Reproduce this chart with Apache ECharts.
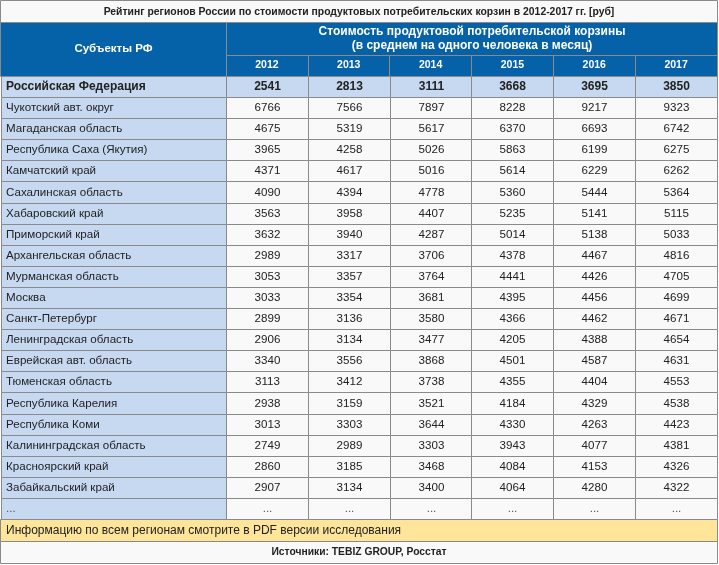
<!DOCTYPE html>
<html>
<head>
<meta charset="utf-8">
<script src="https://cdn.jsdelivr.net/npm/echarts@6/dist/echarts.min.js"></script>
<style>html,body{margin:0;padding:0;background:#fff}#c{width:719px;height:565px}</style>
</head>
<body>
<div id="c"></div>
<script>
const title = 'Рейтинг регионов России по стоимости продуктовых потребительских корзин в 2012-2017 гг. [руб]';
const colHeader = 'Субъекты РФ';
const groupHeader = ['Стоимость продуктовой потребительской корзины', '(в среднем на одного человека в месяц)'];
const years = ['2012', '2013', '2014', '2015', '2016', '2017'];
const regions = ['Российская Федерация', 'Чукотский авт. округ', 'Магаданская область', 'Республика Саха (Якутия)', 'Камчатский край', 'Сахалинская область', 'Хабаровский край', 'Приморский край', 'Архангельская область', 'Мурманская область', 'Москва', 'Санкт-Петербург', 'Ленинградская область', 'Еврейская авт. область', 'Тюменская область', 'Республика Карелия', 'Республика Коми', 'Калининградская область', 'Красноярский край', 'Забайкальский край', '...'];
const v2012 = [2541, 6766, 4675, 3965, 4371, 4090, 3563, 3632, 2989, 3053, 3033, 2899, 2906, 3340, 3113, 2938, 3013, 2749, 2860, 2907, '...'];
const v2013 = [2813, 7566, 5319, 4258, 4617, 4394, 3958, 3940, 3317, 3357, 3354, 3136, 3134, 3556, 3412, 3159, 3303, 2989, 3185, 3134, '...'];
const v2014 = [3111, 7897, 5617, 5026, 5016, 4778, 4407, 4287, 3706, 3764, 3681, 3580, 3477, 3868, 3738, 3521, 3644, 3303, 3468, 3400, '...'];
const v2015 = [3668, 8228, 6370, 5863, 5614, 5360, 5235, 5014, 4378, 4441, 4395, 4366, 4205, 4501, 4355, 4184, 4330, 3943, 4084, 4064, '...'];
const v2016 = [3695, 9217, 6693, 6199, 6229, 5444, 5141, 5138, 4467, 4426, 4456, 4462, 4388, 4587, 4404, 4329, 4263, 4077, 4153, 4280, '...'];
const v2017 = [3850, 9323, 6742, 6275, 6262, 5364, 5115, 5033, 4816, 4705, 4699, 4671, 4654, 4631, 4553, 4538, 4423, 4381, 4326, 4322, '...'];
const note = 'Информацию по всем регионам смотрите в PDF версии исследования';
const source = 'Источники: TEBIZ GROUP, Росстат';

const yearValues = [v2012, v2013, v2014, v2015, v2016, v2017];
const FONT = '"Liberation Sans", Arial, sans-serif';
const BORDER = '#8a8a8a';
const BLUE = '#0562a8';
const LIGHT = '#c6d9f1';
const CELL = '#f9f9f9';
const YELLOW = '#ffe599';

const nameData = regions.map((r, i) => [0, i]);
const valueData = [];
for (let r = 0; r < regions.length; r++) {
  for (let c = 0; c < years.length; c++) valueData.push([c, r]);
}

function cellRect(api) {
  const p = api.coord([api.value(0), api.value(1)]);
  const s = api.size([1, 1]);
  const x0 = Math.round(p[0] - s[0] / 2) + 0.5;
  const y0 = Math.round(p[1] - s[1] / 2) + 0.5;
  const x1 = Math.round(p[0] + s[0] / 2) + 0.5;
  const y1 = Math.round(p[1] + s[1] / 2) + 0.5;
  return {x: x0, y: y0, width: x1 - x0, height: y1 - y0};
}

function renderName(params, api) {
  const r = cellRect(api);
  const row = api.value(1);
  const txt = regions[params.dataIndex];
  return {
    type: 'group',
    children: [
      {type: 'rect', shape: r, style: {fill: LIGHT, stroke: BORDER, lineWidth: 1}},
      {type: 'text', style: {x: r.x + 4.5, y: r.y + r.height / 2, text: txt, textAlign: 'left', textVerticalAlign: 'middle',
        font: (row === 0 ? 'bold 12px ' : '11.6px ') + FONT, fill: txt === '...' ? '#555' : '#222'}}
    ]
  };
}

function renderValue(params, api) {
  const r = cellRect(api);
  const col = api.value(0), row = api.value(1);
  const txt = String(yearValues[col][row]);
  return {
    type: 'group',
    children: [
      {type: 'rect', shape: r, style: {fill: row === 0 ? LIGHT : CELL, stroke: BORDER, lineWidth: 1}},
      {type: 'text', style: {x: r.x + r.width / 2, y: r.y + r.height / 2, text: txt, textAlign: 'center', textVerticalAlign: 'middle',
        font: (row === 0 ? 'bold 12px ' : '11.6px ') + FONT, fill: txt === '...' ? '#555' : '#222'}}
    ]
  };
}

const chart = echarts.init(document.getElementById('c'), null, {renderer: 'canvas'});
chart.setOption({
  animation: false,
  backgroundColor: '#ffffff',
  grid: [
    {left: 1, width: 225, top: 76, height: 443},
    {left: 226, width: 491, top: 76, height: 443}
  ],
  xAxis: [
    {gridIndex: 0, type: 'category', data: ['name'], show: false},
    {gridIndex: 1, type: 'category', data: years, position: 'top',
      axisLine: {show: false}, axisTick: {show: false}, splitLine: {show: false},
      axisLabel: {color: '#ffffff', fontWeight: 'bold', fontSize: 10.5, fontFamily: FONT, margin: 5}}
  ],
  yAxis: [
    {gridIndex: 0, type: 'category', data: regions, inverse: true, show: false},
    {gridIndex: 1, type: 'category', data: regions, inverse: true, show: false}
  ],
  graphic: [
    {type: 'rect', z: -10, shape: {x: 0.5, y: 0.5, width: 717, height: 22}, style: {fill: CELL, stroke: BORDER, lineWidth: 1}},
    {type: 'text', z: 10, style: {x: 359, y: 12, text: title, textAlign: 'center', textVerticalAlign: 'middle', font: 'bold 10.4px ' + FONT, fill: '#222'}},
    {type: 'rect', z: -10, shape: {x: 0.5, y: 22.5, width: 717, height: 54}, style: {fill: BLUE, stroke: BORDER, lineWidth: 1}},
    {type: 'line', z: -5, shape: {x1: 226.5, y1: 22.5, x2: 226.5, y2: 76.5}, style: {stroke: BORDER, lineWidth: 1}},
    {type: 'line', z: -5, shape: {x1: 226.5, y1: 55.5, x2: 717.5, y2: 55.5}, style: {stroke: BORDER, lineWidth: 1}},
    {type: 'line', z: -5, shape: {x1: 308.5, y1: 55.5, x2: 308.5, y2: 76.5}, style: {stroke: BORDER, lineWidth: 1}},
    {type: 'line', z: -5, shape: {x1: 389.5, y1: 55.5, x2: 389.5, y2: 76.5}, style: {stroke: BORDER, lineWidth: 1}},
    {type: 'line', z: -5, shape: {x1: 471.5, y1: 55.5, x2: 471.5, y2: 76.5}, style: {stroke: BORDER, lineWidth: 1}},
    {type: 'line', z: -5, shape: {x1: 553.5, y1: 55.5, x2: 553.5, y2: 76.5}, style: {stroke: BORDER, lineWidth: 1}},
    {type: 'line', z: -5, shape: {x1: 635.5, y1: 55.5, x2: 635.5, y2: 76.5}, style: {stroke: BORDER, lineWidth: 1}},
    {type: 'text', z: 10, style: {x: 113.5, y: 49, text: colHeader, textAlign: 'center', textVerticalAlign: 'middle', font: 'bold 11.5px ' + FONT, fill: '#fff'}},
    {type: 'text', z: 10, style: {x: 472, y: 32, text: groupHeader[0], textAlign: 'center', textVerticalAlign: 'middle', font: 'bold 12px ' + FONT, fill: '#fff'}},
    {type: 'text', z: 10, style: {x: 472, y: 45.5, text: groupHeader[1], textAlign: 'center', textVerticalAlign: 'middle', font: 'bold 12px ' + FONT, fill: '#fff'}},
    {type: 'rect', z: -10, shape: {x: 0.5, y: 519.5, width: 717, height: 22}, style: {fill: YELLOW, stroke: BORDER, lineWidth: 1}},
    {type: 'text', z: 10, style: {x: 6, y: 530.5, text: note, textAlign: 'left', textVerticalAlign: 'middle', font: '12px ' + FONT, fill: '#222'}},
    {type: 'rect', z: -10, shape: {x: 0.5, y: 541.5, width: 717, height: 22}, style: {fill: CELL, stroke: BORDER, lineWidth: 1}},
    {type: 'text', z: 10, style: {x: 359, y: 552.5, text: source, textAlign: 'center', textVerticalAlign: 'middle', font: 'bold 10.3px ' + FONT, fill: '#222'}}
  ],
  series: [
    {type: 'custom', xAxisIndex: 0, yAxisIndex: 0, data: nameData, renderItem: renderName, silent: true},
    {type: 'custom', xAxisIndex: 1, yAxisIndex: 1, data: valueData, renderItem: renderValue, silent: true}
  ]
});
</script>
</body>
</html>
